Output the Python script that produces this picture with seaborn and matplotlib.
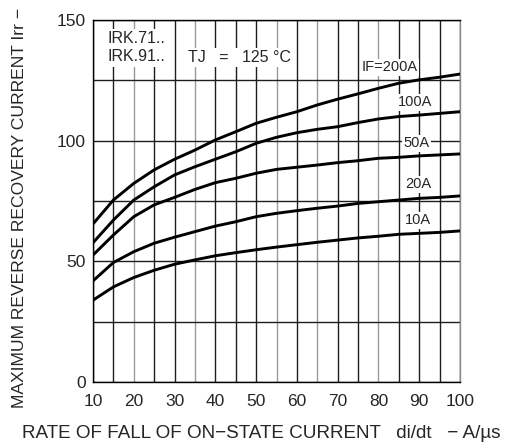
import numpy as np
import pandas as pd
import matplotlib
matplotlib.use("Agg")
import matplotlib.pyplot as plt
from matplotlib.ticker import MultipleLocator, FixedLocator
import seaborn as sns

# Rate of fall of on-state current di/dt (A/us)
didt = [10, 15, 20, 25, 30, 35, 40, 45, 50, 55, 60, 65, 70, 75, 80, 85, 90, 95, 100]

# Maximum reverse recovery current Irr (A) for each forward current IF
irr_200a = [65.5, 75.4, 82.3, 87.9, 92.3, 96.1, 100.3, 103.7, 107.2, 109.7, 112.0,
            114.8, 117.2, 119.4, 121.7, 123.8, 125.2, 126.3, 127.6]
irr_100a = [57.7, 67.1, 75.4, 80.9, 85.8, 89.2, 92.3, 95.4, 98.9, 101.4, 103.3,
            104.7, 105.8, 107.5, 109.0, 110.0, 110.6, 111.3, 112.0]
irr_50a = [52.6, 60.9, 68.5, 73.4, 76.5, 79.8, 82.6, 84.4, 86.5, 88.1, 89.0,
           89.9, 90.9, 91.7, 92.7, 93.1, 93.7, 94.1, 94.5]
irr_20a = [41.9, 49.5, 54.0, 57.5, 60.0, 62.3, 64.6, 66.4, 68.5, 69.9, 71.0,
           72.0, 72.9, 74.0, 74.7, 75.4, 76.1, 76.5, 77.1]
irr_10a = [33.9, 39.4, 43.3, 46.3, 48.8, 50.6, 52.3, 53.6, 54.8, 55.9, 56.9,
           57.9, 58.8, 59.7, 60.4, 61.2, 61.6, 62.0, 62.6]

series_names = ["IF=200A", "100A", "50A", "20A", "10A"]
series_values = [irr_200a, irr_100a, irr_50a, irr_20a, irr_10a]

# Curve label placement (di/dt, Irr)
label_pos = [(82.7, 130.5), (88.9, 116.0), (89.4, 99.0), (89.8, 82.0), (89.8, 67.0)]

x_ticks = [10, 20, 30, 40, 50, 60, 70, 80, 90, 100]
x_minor = [15, 25, 35, 45, 55, 65, 75, 85, 95]
y_ticks = [0, 50, 100, 150]
y_minor = [25, 75, 125]

rows = []
for name, vals in zip(series_names, series_values):
    for x, y in zip(didt, vals):
        rows.append({"didt": x, "irr": y, "IF": name})
df = pd.DataFrame(rows)

sns.set_style("white")
plt.rcParams["font.family"] = ["Liberation Sans", "DejaVu Sans"]

W, H = 532, 447
fig = plt.figure(figsize=(W / 100, H / 100), dpi=100)
ax = fig.add_axes([93 / W, 65 / H, 367 / W, 362 / H])

sns.lineplot(data=df, x="didt", y="irr", units="IF", estimator=None,
             color="black", lw=2.1, legend=False, ax=ax, zorder=5)

ax.set_xlim(10, 100)
ax.set_ylim(0, 150)
ax.xaxis.set_major_locator(FixedLocator(x_ticks))
ax.xaxis.set_minor_locator(FixedLocator(x_minor))
ax.yaxis.set_major_locator(FixedLocator(y_ticks))
ax.yaxis.set_minor_locator(FixedLocator(y_minor))
ax.grid(True, which="both", color="#1e1e1e", lw=1.0)
ax.tick_params(which="both", length=0)
ax.tick_params(axis="x", pad=9, labelsize=12.5)
ax.tick_params(axis="y", pad=5, labelsize=12.5)
ax.set_xlabel("")
ax.set_ylabel("")
for s in ax.spines.values():
    s.set_color("black")
    s.set_linewidth(1.0)
ax.spines["right"].set_color("#8a8a8a")

box = dict(facecolor="white", edgecolor="none", pad=1.0)
for name, (lx, ly) in zip(series_names, label_pos):
    ax.text(lx, ly, name, ha="center", va="center", fontsize=10.5,
            bbox=box, zorder=6)

ax.text(13.6, 138.5, "IRK.71..\nIRK.91..", ha="left", va="center",
        fontsize=11.5, linespacing=1.25,
        bbox=dict(facecolor="white", edgecolor="none", pad=2.0), zorder=6)
ax.text(33.2, 134.6, "TJ   =   125 °C", ha="left", va="center", fontsize=11.5,
        bbox=dict(facecolor="white", edgecolor="none", pad=1.5), zorder=6)

fig.text(261 / W, 1 - 434 / H, "RATE OF FALL OF ON−STATE CURRENT   di/dt   − A/µs",
         ha="center", va="center", fontsize=13.6)
fig.text(20 / W, 1 - 408 / H, "MAXIMUM REVERSE RECOVERY CURRENT Irr −",
         ha="center", va="bottom", rotation=90, fontsize=12.6)

# lighter printed grid rules
fig.canvas.draw()
light_rules = {20, 35, 55, 65, 80}
for tick in ax.xaxis.get_major_ticks() + ax.xaxis.get_minor_ticks():
    if int(round(tick.get_loc())) in light_rules:
        tick.gridline.set_color("#9a9a9a")

fig.savefig("out.png", dpi=100, facecolor="white")
